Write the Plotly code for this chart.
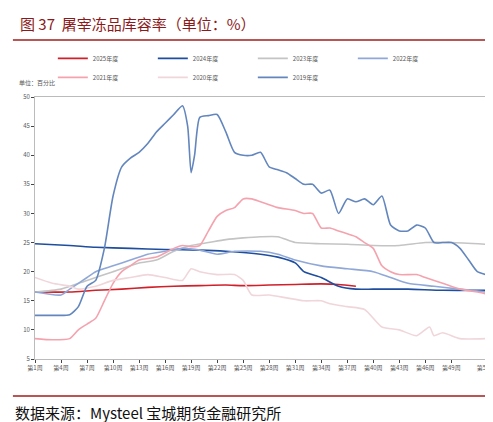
import plotly.graph_objects as go

# 周次与数值
tick_weeks = [1, 4, 7, 10, 13, 16, 19, 22, 25, 28, 31, 34, 37, 40, 43, 46, 49, 53]
tick_text = [f"第{w}周" for w in tick_weeks]

w2019 = [1, 3, 5, 6, 7, 8, 9, 10, 11, 12, 13, 14, 15, 16, 17, 18, 18.6, 19, 19.4, 20, 21, 22, 23, 24, 25, 26, 27, 28, 29, 30, 31, 32, 33, 34, 35, 36, 37, 38, 39, 40, 41, 42, 43, 44, 45, 46, 47, 48, 49, 50, 51, 52, 53]
v2019 = [12.5, 12.5, 12.6, 14, 17.5, 18.5, 24, 33, 38, 39.5, 40.5, 42, 44, 45.5, 47, 48.5, 45, 37, 40, 46.5, 46.8, 47, 44, 40.5, 40, 40, 40.5, 38, 37.5, 37, 36, 35, 35, 33.5, 34, 30, 32.5, 32, 32.5, 31.5, 33, 28, 27, 27, 28, 27.5, 25, 25, 25, 24, 22, 20, 19.5]

w2022 = [1, 4, 5, 7, 8, 10, 12, 14, 16, 18, 20, 22, 24, 27, 29, 31, 34, 37, 40, 42, 44, 47, 50, 53]
v2022 = [16.5, 16, 17, 19, 20, 21, 22, 23, 23.5, 24, 23.7, 23, 23.5, 23.5, 23, 22, 21, 20.5, 20, 19, 18, 17.5, 17, 16.5]

w2021 = [1, 3, 5, 6, 7, 8, 9, 10, 11, 12, 13, 15, 17, 18, 19, 20, 21, 22, 23, 24, 25, 26, 27, 28, 29, 31, 32, 33, 34, 35, 36, 37, 38, 39, 40, 41, 42, 43, 45, 46, 48, 50, 52, 53]
v2021 = [8.5, 8.3, 8.5, 10, 11, 12, 15, 18, 20, 21, 22, 22.5, 24, 24.5, 24.3, 24.5, 27, 29.5, 30.5, 31, 32.5, 32.5, 32, 31.5, 31, 30.5, 30, 30, 27.5, 27.5, 27, 26.5, 26, 25, 24, 21, 20, 19.5, 19.5, 19, 18, 17, 16.5, 16.2]

w2020 = [1, 3, 5, 6, 7, 8, 10, 12, 14, 16, 18, 19, 20, 22, 24, 25, 26, 28, 30, 32, 34, 35, 37, 39, 41, 43, 45, 46.5, 47, 48, 50, 53]
v2020 = [19, 18, 17.5, 17, 17.2, 17.5, 18.5, 19, 19.5, 19, 18.5, 20.5, 20, 19.5, 19.5, 18.5, 16, 16, 15.5, 15, 15, 14.5, 14, 13.5, 10.5, 10, 9, 10.5, 9, 9.5, 8.5, 8.5]

w2023 = [1, 4, 7, 10, 13, 15, 17, 19, 21, 23, 25, 27, 29, 31, 34, 37, 40, 43, 46, 49, 53]
v2023 = [16.5, 17, 18.5, 20, 21.5, 22, 23.5, 24.5, 25, 25.5, 25.8, 26, 26, 25, 24.8, 24.7, 24.5, 24.5, 25, 25, 24.7]

w2024 = [1, 5, 8, 12, 16, 20, 23, 27, 29, 31, 32, 34, 36, 38, 40, 44, 48, 53]
v2024 = [24.8, 24.5, 24.2, 24, 23.8, 23.7, 23.5, 23, 22.5, 21.5, 20, 19, 17.5, 17, 17, 17, 16.8, 16.8]

w2025 = [1, 5, 8, 11, 14, 17, 20, 23, 25, 28, 31, 34, 36, 38]
v2025 = [16.5, 16.5, 16.8, 17, 17.3, 17.5, 17.6, 17.7, 17.6, 17.7, 17.8, 17.9, 17.8, 17.5]

series = [
    ("2025年度", w2025, v2025, "#d0202a"),
    ("2024年度", w2024, v2024, "#1f4e9e"),
    ("2023年度", w2023, v2023, "#c4c4c4"),
    ("2022年度", w2022, v2022, "#90a8d8"),
    ("2021年度", w2021, v2021, "#f4a3ae"),
    ("2020年度", w2020, v2020, "#f0d6da"),
    ("2019年度", w2019, v2019, "#6286bd"),
]

fig = go.Figure()
for name, xs, ys, col in series:
    fig.add_trace(go.Scatter(x=xs, y=ys, name=name, mode="lines",
                             line=dict(color=col, width=1.6, shape="spline", smoothing=0.6)))

fig.update_layout(
    width=493, height=422,
    margin=dict(l=27, r=15, t=89, b=71, autoexpand=False),
    paper_bgcolor="white", plot_bgcolor="white",
    font=dict(family="Noto Sans CJK SC", size=6, color="#555"),
    showlegend=True,
    legend=dict(orientation="h", x=0.483, xanchor="center", y=1.111, yanchor="middle",
                font=dict(size=6), entrywidth=55, entrywidthmode="pixels",
                itemwidth=30, tracegroupgap=0),
    xaxis=dict(range=[1, 53], tickvals=tick_weeks, ticktext=tick_text, ticks="outside",
               ticklen=3, showgrid=False, showline=True, linecolor="#bbb", mirror=True, zeroline=False),
    yaxis=dict(range=[5, 50], dtick=5, ticks="outside", ticklen=3, showgrid=False,
               showline=True, linecolor="#bbb", mirror=True, zeroline=False),
    annotations=[
        dict(text="图 37  屠宰冻品库容率（单位：%）", x=-0.038, y=1.282, xref="paper", yref="paper",
             xanchor="left", yanchor="middle", showarrow=False,
             font=dict(size=15, color="#8b1a1a", family="Noto Sans CJK SC")),
        dict(text="单位：百分比", x=-0.04, y=1.057, xref="paper", yref="paper", showarrow=False,
             xanchor="left", yanchor="middle", font=dict(size=6)),
        dict(text="数据来源：Mysteel 宝城期货金融研究所", x=-0.049, y=-0.206, xref="paper", yref="paper",
             xanchor="left", yanchor="middle", showarrow=False,
             font=dict(size=15, color="#111", family="Noto Sans CJK SC")),
    ],
    shapes=[
        dict(type="line", xref="paper", yref="paper", x0=-0.049, x1=1.022, y0=1.218, y1=1.218,
             line=dict(color="#a01c1c", width=1.5)),
        dict(type="line", xref="paper", yref="paper", x0=-0.049, x1=1.022, y0=-0.141, y1=-0.141,
             line=dict(color="#a01c1c", width=1.5)),
    ],
)

fig.write_html("out.html")
